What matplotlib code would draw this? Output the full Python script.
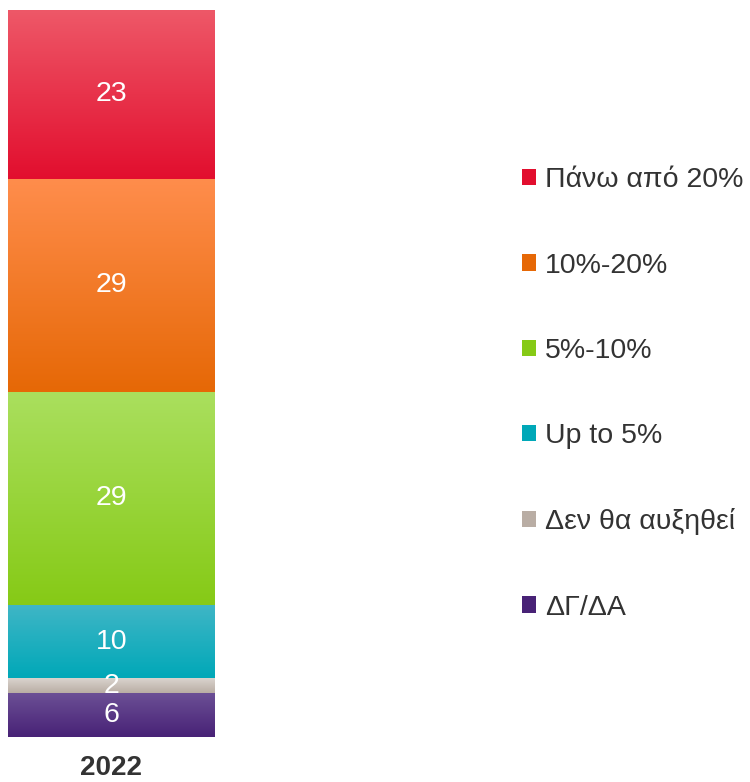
import numpy as np
import matplotlib.pyplot as plt
from matplotlib.colors import LinearSegmentedColormap
from matplotlib.patches import Patch

plt.rcParams['font.family'] = ['Liberation Sans', 'DejaVu Sans']

# dados
year = "2022"
categories = ["ΔΓ/ΔΑ", "Δεν θα αυξηθεί", "Up to 5%", "5%-10%", "10%-20%", "Πάνω από 20%"]
values = [6, 2, 10, 29, 29, 23]
top_colors = ["#6c5096", "#dad4ce", "#40b6c6", "#aadf5e", "#ff8d4c", "#ee5868"]
bottom_colors = ["#482276", "#b9ada4", "#00a8b8", "#86ca16", "#e66806", "#e20e2e"]

fig = plt.figure(figsize=(7.5, 7.82), dpi=100)
ax = fig.add_axes([8 / 750, 45 / 782, 207 / 750, 727 / 782])

grad = np.linspace(1, 0, 256).reshape(-1, 1)
bottom = 0
for cat, v, ct, cb in zip(categories, values, top_colors, bottom_colors):
    ax.bar(0, v, bottom=bottom, width=1, color=cb, linewidth=0)
    cmap = LinearSegmentedColormap.from_list(cat, [cb, ct])
    ax.imshow(grad, cmap=cmap, extent=[-0.5, 0.5, bottom, bottom + v],
              aspect='auto', vmin=0, vmax=1, zorder=2)
    ax.text(0, bottom + v / 2, str(v), ha='center', va='center',
            color='white', fontsize=20.5, zorder=3)
    bottom += v

ax.set_xlim(-0.5, 0.5)
ax.set_ylim(0, sum(values))
ax.axis('off')

fig.text(111 / 750, 7 / 782, year, ha='center', va='baseline',
         fontsize=20, fontweight='bold', color='#333333')

handles = [Patch(facecolor=c, edgecolor='none') for c in bottom_colors]
leg = fig.legend(handles[::-1], categories[::-1], loc='center left',
                 bbox_to_anchor=(508 / 750, 388 / 782), frameon=False,
                 fontsize=20.5, handlelength=0.5, handleheight=0.5,
                 handletextpad=0.3, labelspacing=2.08, borderpad=0)
for t in leg.get_texts():
    t.set_color('#333333')

fig.savefig('out.png', dpi=100)
